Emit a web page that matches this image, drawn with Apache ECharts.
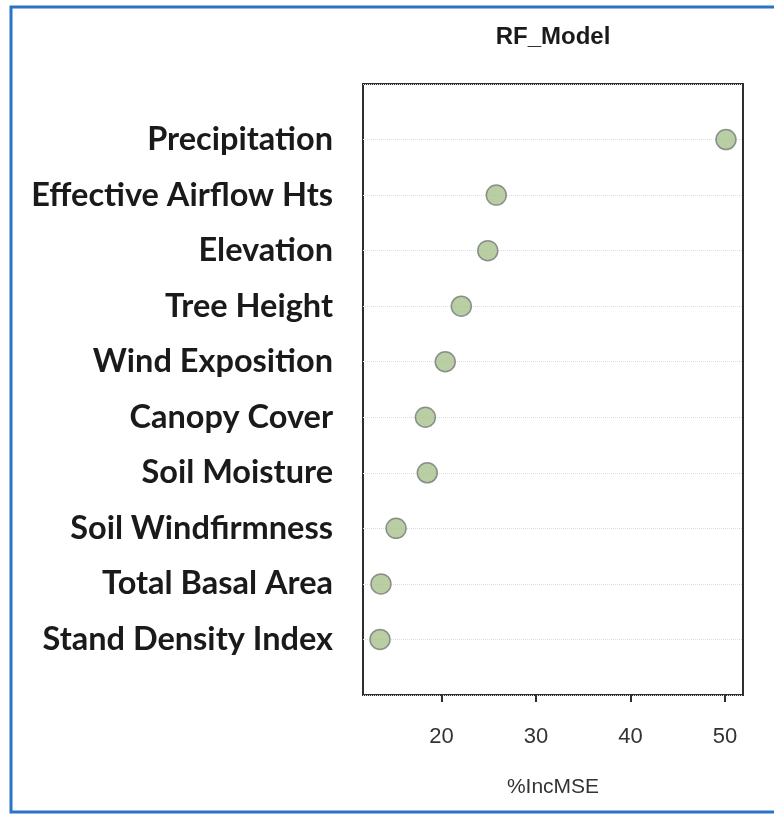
<!DOCTYPE html>
<html>
<head>
<meta charset="utf-8">
<script src="https://cdn.jsdelivr.net/npm/echarts@6/dist/echarts.min.js"></script>
<style>
  html, body { margin: 0; padding: 0; background: #ffffff; }
  #chart { width: 774px; height: 815px; }
</style>
</head>
<body>
<div id="chart"></div>
<script>
// Variable importance from the random forest model, listed top to bottom
const categories = [
  'Precipitation',
  'Effective Airflow Hts',
  'Elevation',
  'Tree Height',
  'Wind Exposition',
  'Canopy Cover',
  'Soil Moisture',
  'Soil Windfirmness',
  'Total Basal Area',
  'Stand Density Index'
];
const incMSE = [50.1, 25.8, 24.9, 22.1, 20.4, 18.3, 18.5, 15.2, 13.6, 13.5];
const xTicks = [20, 30, 40, 50];

// Row positions: first category sits on the top row
const n = categories.length;
const points = incMSE.map((v, i) => [v, n - i]);

const chart = echarts.init(document.getElementById('chart'), null, { renderer: 'canvas' });

chart.setOption({
  animation: false,
  backgroundColor: '#ffffff',
  graphic: [
    {
      type: 'rect',
      shape: { x: 11, y: 7, width: 820, height: 805 },
      style: { fill: 'none', stroke: '#2b73c6', lineWidth: 3 },
      silent: true
    },
    {
      type: 'text',
      x: 553,
      y: 25,
      style: {
        text: 'RF_Model',
        font: 'bold 24px "Liberation Sans", Arial, sans-serif',
        fill: '#1a1a1a',
        textAlign: 'center',
        textVerticalAlign: 'top'
      }
    }
  ],
  grid: {
    left: 363,
    right: 31,
    top: 84,
    bottom: 120,
    show: true,
    borderColor: '#2e2e2e',
    borderWidth: 2,
    backgroundColor: 'transparent'
  },
  xAxis: {
    type: 'value',
    min: 11.7,
    max: 51.9,
    name: '%IncMSE',
    nameLocation: 'middle',
    nameGap: 82,
    nameTextStyle: {
      fontFamily: '"Liberation Sans", Arial, sans-serif',
      fontSize: 21,
      color: '#333333'
    },
    axisLine: { show: false },
    axisTick: {
      show: true,
      customValues: xTicks,
      length: 7,
      lineStyle: { color: '#2e2e2e', width: 2 }
    },
    axisLabel: {
      customValues: xTicks,
      margin: 31,
      fontFamily: '"Liberation Sans", Arial, sans-serif',
      fontSize: 22,
      color: '#333333'
    },
    splitLine: { show: false }
  },
  yAxis: {
    type: 'value',
    min: 0,
    max: 11,
    interval: 1,
    axisLine: { show: false },
    axisTick: { show: false },
    axisLabel: {
      margin: 30,
      fontFamily: 'Lato, "Open Sans", sans-serif',
      fontWeight: 'bold',
      fontSize: 32.5,
      color: '#1a1a1a',
      formatter: v => (v >= 1 && v <= n ? categories[n - v] : '')
    },
    splitLine: {
      show: true,
      lineStyle: { color: '#dcdcdc', type: 'dotted', width: 1 }
    }
  },
  series: [
    {
      type: 'scatter',
      data: points,
      symbol: 'circle',
      symbolSize: 20,
      itemStyle: {
        color: '#a9c28d',
        borderColor: '#737a78',
        borderWidth: 1.5
      },
      z: 3
    }
  ]
});
</script>
</body>
</html>
